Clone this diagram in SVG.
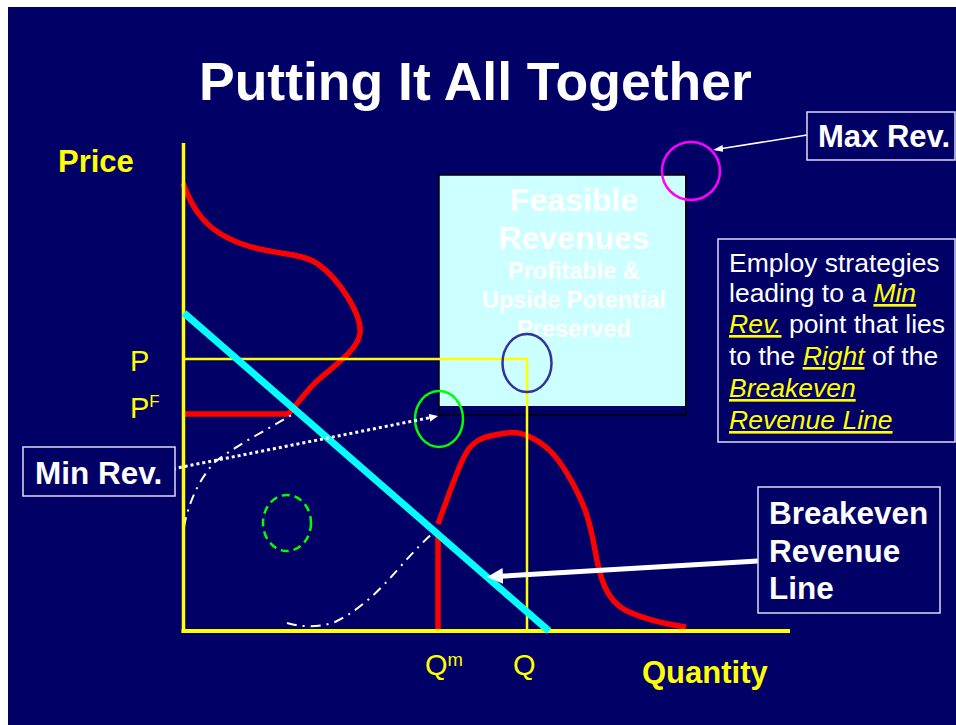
<svg xmlns="http://www.w3.org/2000/svg" width="956" height="725" viewBox="0 0 956 725">
<defs>
<style>
.t{font-family:"Liberation Sans",Arial,sans-serif}
.b{font-weight:bold}
.w{fill:#fff}
.y{fill:#ffff00}
.box{fill:#000066;stroke:#dcdcf0;stroke-width:1.5}
.red{fill:none;stroke:#ff0000;stroke-width:5.5;stroke-linejoin:round}
.dd{fill:none;stroke:#fff;stroke-width:2;stroke-dasharray:10 6 2 6}
.u{fill:#ffff00;font-style:italic;text-decoration:underline}
</style>
<marker id="ahBig" markerUnits="userSpaceOnUse" markerWidth="18" markerHeight="16" refX="2" refY="8" orient="auto"><path d="M0,0 L16,8 L0,16 Z" fill="#fff"/></marker>
<marker id="ahDot" markerUnits="userSpaceOnUse" markerWidth="10" markerHeight="9" refX="1" refY="4" orient="auto"><path d="M0,0 L9,4 L0,8 Z" fill="#fff"/></marker>
<marker id="ahThin" markerUnits="userSpaceOnUse" markerWidth="11" markerHeight="8" refX="1" refY="3.5" orient="auto"><path d="M0,0 L10,3.5 L0,7 Z" fill="#fff"/></marker>
</defs>
<rect x="0" y="0" width="956" height="725" fill="#fff"/>
<rect x="8" y="7" width="948" height="718" fill="#000066"/>

<text class="t b w" x="199" y="100" font-size="53.5">Putting It All Together</text>

<g id="feasible">
<rect x="439" y="175" width="246" height="231" fill="#ccffff"/>
<rect x="439" y="175" width="247" height="240" fill="none" stroke="#000" stroke-width="1.5"/>
<g class="t b w" text-anchor="middle">
<text x="574" y="211" font-size="32">Feasible</text>
<text x="574" y="249" font-size="32">Revenues</text>
<text x="574" y="279" font-size="23.5">Profitable &amp;</text>
<text x="574" y="308" font-size="23.5">Upside Potential</text>
<text x="574" y="337" font-size="23.5">Preserved</text>
</g>
</g>

<g id="curves">
<path class="red" d="M183,183 C192,208 205,232 245,245 C275,255 300,252 318,264 C340,280 362,315 360,333 C358,350 335,365 318,380 C305,392 297,405 288,414 L185,414"/>
<path class="red" d="M438,631 L438,535"/>
<path class="red" d="M438,524 C448,497 457,470 465,455 C472,441 483,437 495,435 C505,433 515,430 530,437 C548,445 560,460 572,482 C585,505 590,522 595,550 C600,580 607,600 625,610 C645,620 665,624 686,627"/>
<path class="dd" d="M184,527 C188,505 198,480 215,462 C235,446 270,428 293,414"/>
<path class="dd" d="M287,623 C300,627 318,628 335,622 C360,610 380,590 400,567 C415,550 425,540 435,531"/>
</g>

<g id="axes" stroke="#ffff00" fill="none">
<line x1="183.5" y1="143" x2="183.5" y2="633" stroke-width="3.5"/>
<line x1="181.5" y1="631" x2="790" y2="631" stroke-width="4"/>
<polyline points="185,359 527,359 527,631" stroke-width="2.5"/>
</g>

<g id="breakevenLine">
<line x1="184" y1="313" x2="549" y2="631" stroke="#00ffff" stroke-width="7"/>
</g>

<g id="points" fill="none">
<circle id="maxRevPoint" cx="691" cy="171" r="29" stroke="#ff00ff" stroke-width="2.5"/>
<ellipse id="bluePoint" cx="527" cy="363" rx="24.5" ry="29" stroke="#333399" stroke-width="2.5"/>
<ellipse id="minRevPoint" cx="439" cy="419" rx="24" ry="28" stroke="#00ff00" stroke-width="2.5"/>
<ellipse id="dashedPoint" cx="287" cy="523" rx="24" ry="28" stroke="#00ff00" stroke-width="2.5" stroke-dasharray="8 5"/>
</g>

<g id="labels" class="t">
<text class="b y" x="58" y="172" font-size="31">Price</text>
<text class="y" x="130" y="371" font-size="29">P</text>
<text class="y" x="130" y="418" font-size="29">P<tspan font-size="17" dy="-11">F</tspan></text>
<text class="y" x="425" y="675" font-size="29">Q<tspan font-size="18.5" dy="-9">m</tspan></text>
<text class="y" x="513" y="675" font-size="29">Q</text>
<text class="b y" x="642" y="683" font-size="31">Quantity</text>
</g>

<g id="connectors" fill="none" stroke="#fff">
<line x1="167" y1="470" x2="430.2" y2="417.6" stroke-width="3" stroke-dasharray="3 3" marker-end="url(#ahDot)"/>
<line x1="807" y1="135" x2="722" y2="148.6" stroke-width="1.5" marker-end="url(#ahThin)"/>
<line x1="758" y1="561" x2="501" y2="576.2" stroke-width="5" marker-end="url(#ahBig)"/>
</g>

<g id="maxRev">
<rect class="box" x="807" y="112" width="148" height="48"/>
<text class="t b w" x="818" y="147" font-size="31">Max Rev.</text>
</g>

<g id="minRev">
<rect class="box" x="23" y="447" width="152" height="49"/>
<text class="t b w" x="35" y="484" font-size="31.5">Min Rev.</text>
</g>

<g id="employ">
<rect class="box" x="718" y="239" width="237" height="203"/>
<g class="t w" font-size="26.5">
<text x="729" y="272">Employ strategies</text>
<text x="729" y="302">leading to a <tspan class="u">Min</tspan></text>
<text x="729" y="333"><tspan class="u">Rev.</tspan> point that lies</text>
<text x="729" y="365">to the <tspan class="u">Right</tspan> of the</text>
<text x="729" y="397"><tspan class="u">Breakeven</tspan></text>
<text x="729" y="429"><tspan class="u">Revenue Line</tspan></text>
</g>
</g>

<g id="breakevenLabel">
<rect class="box" x="758" y="487" width="182" height="126"/>
<g class="t b w" font-size="31.5">
<text x="769" y="524">Breakeven</text>
<text x="769" y="562">Revenue</text>
<text x="769" y="599">Line</text>
</g>
</g>
</svg>
